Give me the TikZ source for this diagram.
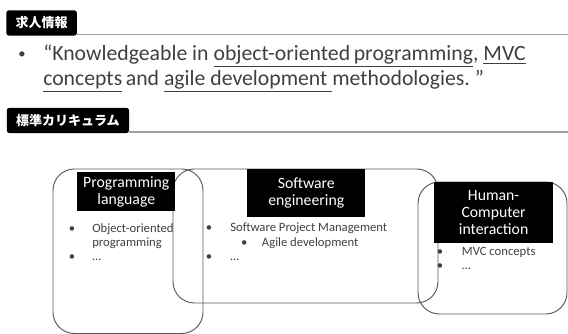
\documentclass[tikz,border=0pt]{standalone}
\usepackage{fontspec}
\setmainfont{Carlito}
\newfontfamily\jafont{Noto Sans CJK JP}
\usetikzlibrary{positioning}
\definecolor{cText}{RGB}{64,64,64}
\definecolor{cFrame}{RGB}{89,89,89}
\definecolor{cRule}{RGB}{160,160,160}

\begin{document}
\begin{tikzpicture}[
    x={(0.75pt,0pt)},
    y={(0pt,-0.75pt)},
    font=\fontsize{9.5}{11}\selectfont,
    text=cText,
    tab/.style={fill=black, text=white, rounded corners=2pt, anchor=north west, inner xsep=7pt, inner ysep=0pt, minimum height=19pt, font=\jafont\bfseries\fontsize{9.75}{10}\selectfont},
    rule/.style={draw=cRule, line width=1.1pt},
    area/.style={draw=cFrame, line width=0.7pt, rounded corners=16pt},
    tag/.style={fill=black, text=white, align=center, inner sep=0pt, anchor=north west, font=\fontsize{11.8}{12.8}\selectfont},
    item/.style={anchor=base, inner sep=0pt},
    big/.style={font=\fontsize{16.3}{19}\selectfont}
]

    % --- Makro fuer einen Listenpunkt ---
    \newcommand{\listItem}[5]{
        \node[item] (#1Dot) at (#2,#4) {•};
        \node[item, anchor=base west] (#1) at (#3,#4) {#5};
    }

    \useasboundingbox (0,0) rectangle (568,334);

    % Kopfzeile 1
    \coordinate (ruleEnd) at (568,33.5);
    \node[tab] (jobTab) at (6,10) {求人情報};
    \draw[rule] ([yshift=0.9pt]jobTab.south east) -- ([yshift=0.9pt]jobTab.south east -| ruleEnd);

    % Zitat
    \node[item, font=\fontsize{11}{12}\selectfont] (quoteDot) at (22,59) {•};
    \node[item, big, anchor=base west] (quote1) at (43,61) {“Knowledgeable in \underline{object-oriented\,programming}, \underline{MVC}};
    \node[item, big, anchor=base west] (quote2) at (43,86) {\underline{concepts}\,and \underline{agile development }methodologies.\ ”};

    % Kopfzeile 2
    \node[tab] (currTab) at (6.5,107.5) {標準カリキュラム};
    \draw[rule] ([yshift=0.9pt]currTab.south east) -- ([yshift=0.9pt]currTab.south east -| ruleEnd);

    % Bereiche
    \draw[area] (53,169) rectangle (203,333.5);
    \draw[area] (173,169) rectangle (438,303);
    \draw[area] (418,182) rectangle (567,314);

    % Beschriftungen
    \node[tag, minimum width=73.5pt, minimum height=29.25pt] (plTag) at (77,172) {Programming\\language};
    \node[tag, minimum width=88.5pt, minimum height=36pt] (seTag) at (247,169) {Software\\engineering};
    \node[tag, minimum width=89pt, minimum height=45.75pt] (hciTag) at (434,182) {Human-\\Computer\\interaction};

    % Listen
    \listItem{plA}{72}{92}{232.5}{Object-oriented};
    \node[item, anchor=base west] (plA2) at (92,246.5) {programming};
    \listItem{plB}{72}{92}{260.7}{…};

    \listItem{seA}{209}{230}{232}{Software Project Management};
    \listItem{seB}{244.3}{261.7}{246.5}{Agile development};
    \listItem{seC}{209}{230}{260.7}{…};

    \listItem{hciA}{440}{461.7}{255.7}{MVC concepts};
    \listItem{hciB}{440}{461.7}{270}{…};

\end{tikzpicture}
\end{document}
